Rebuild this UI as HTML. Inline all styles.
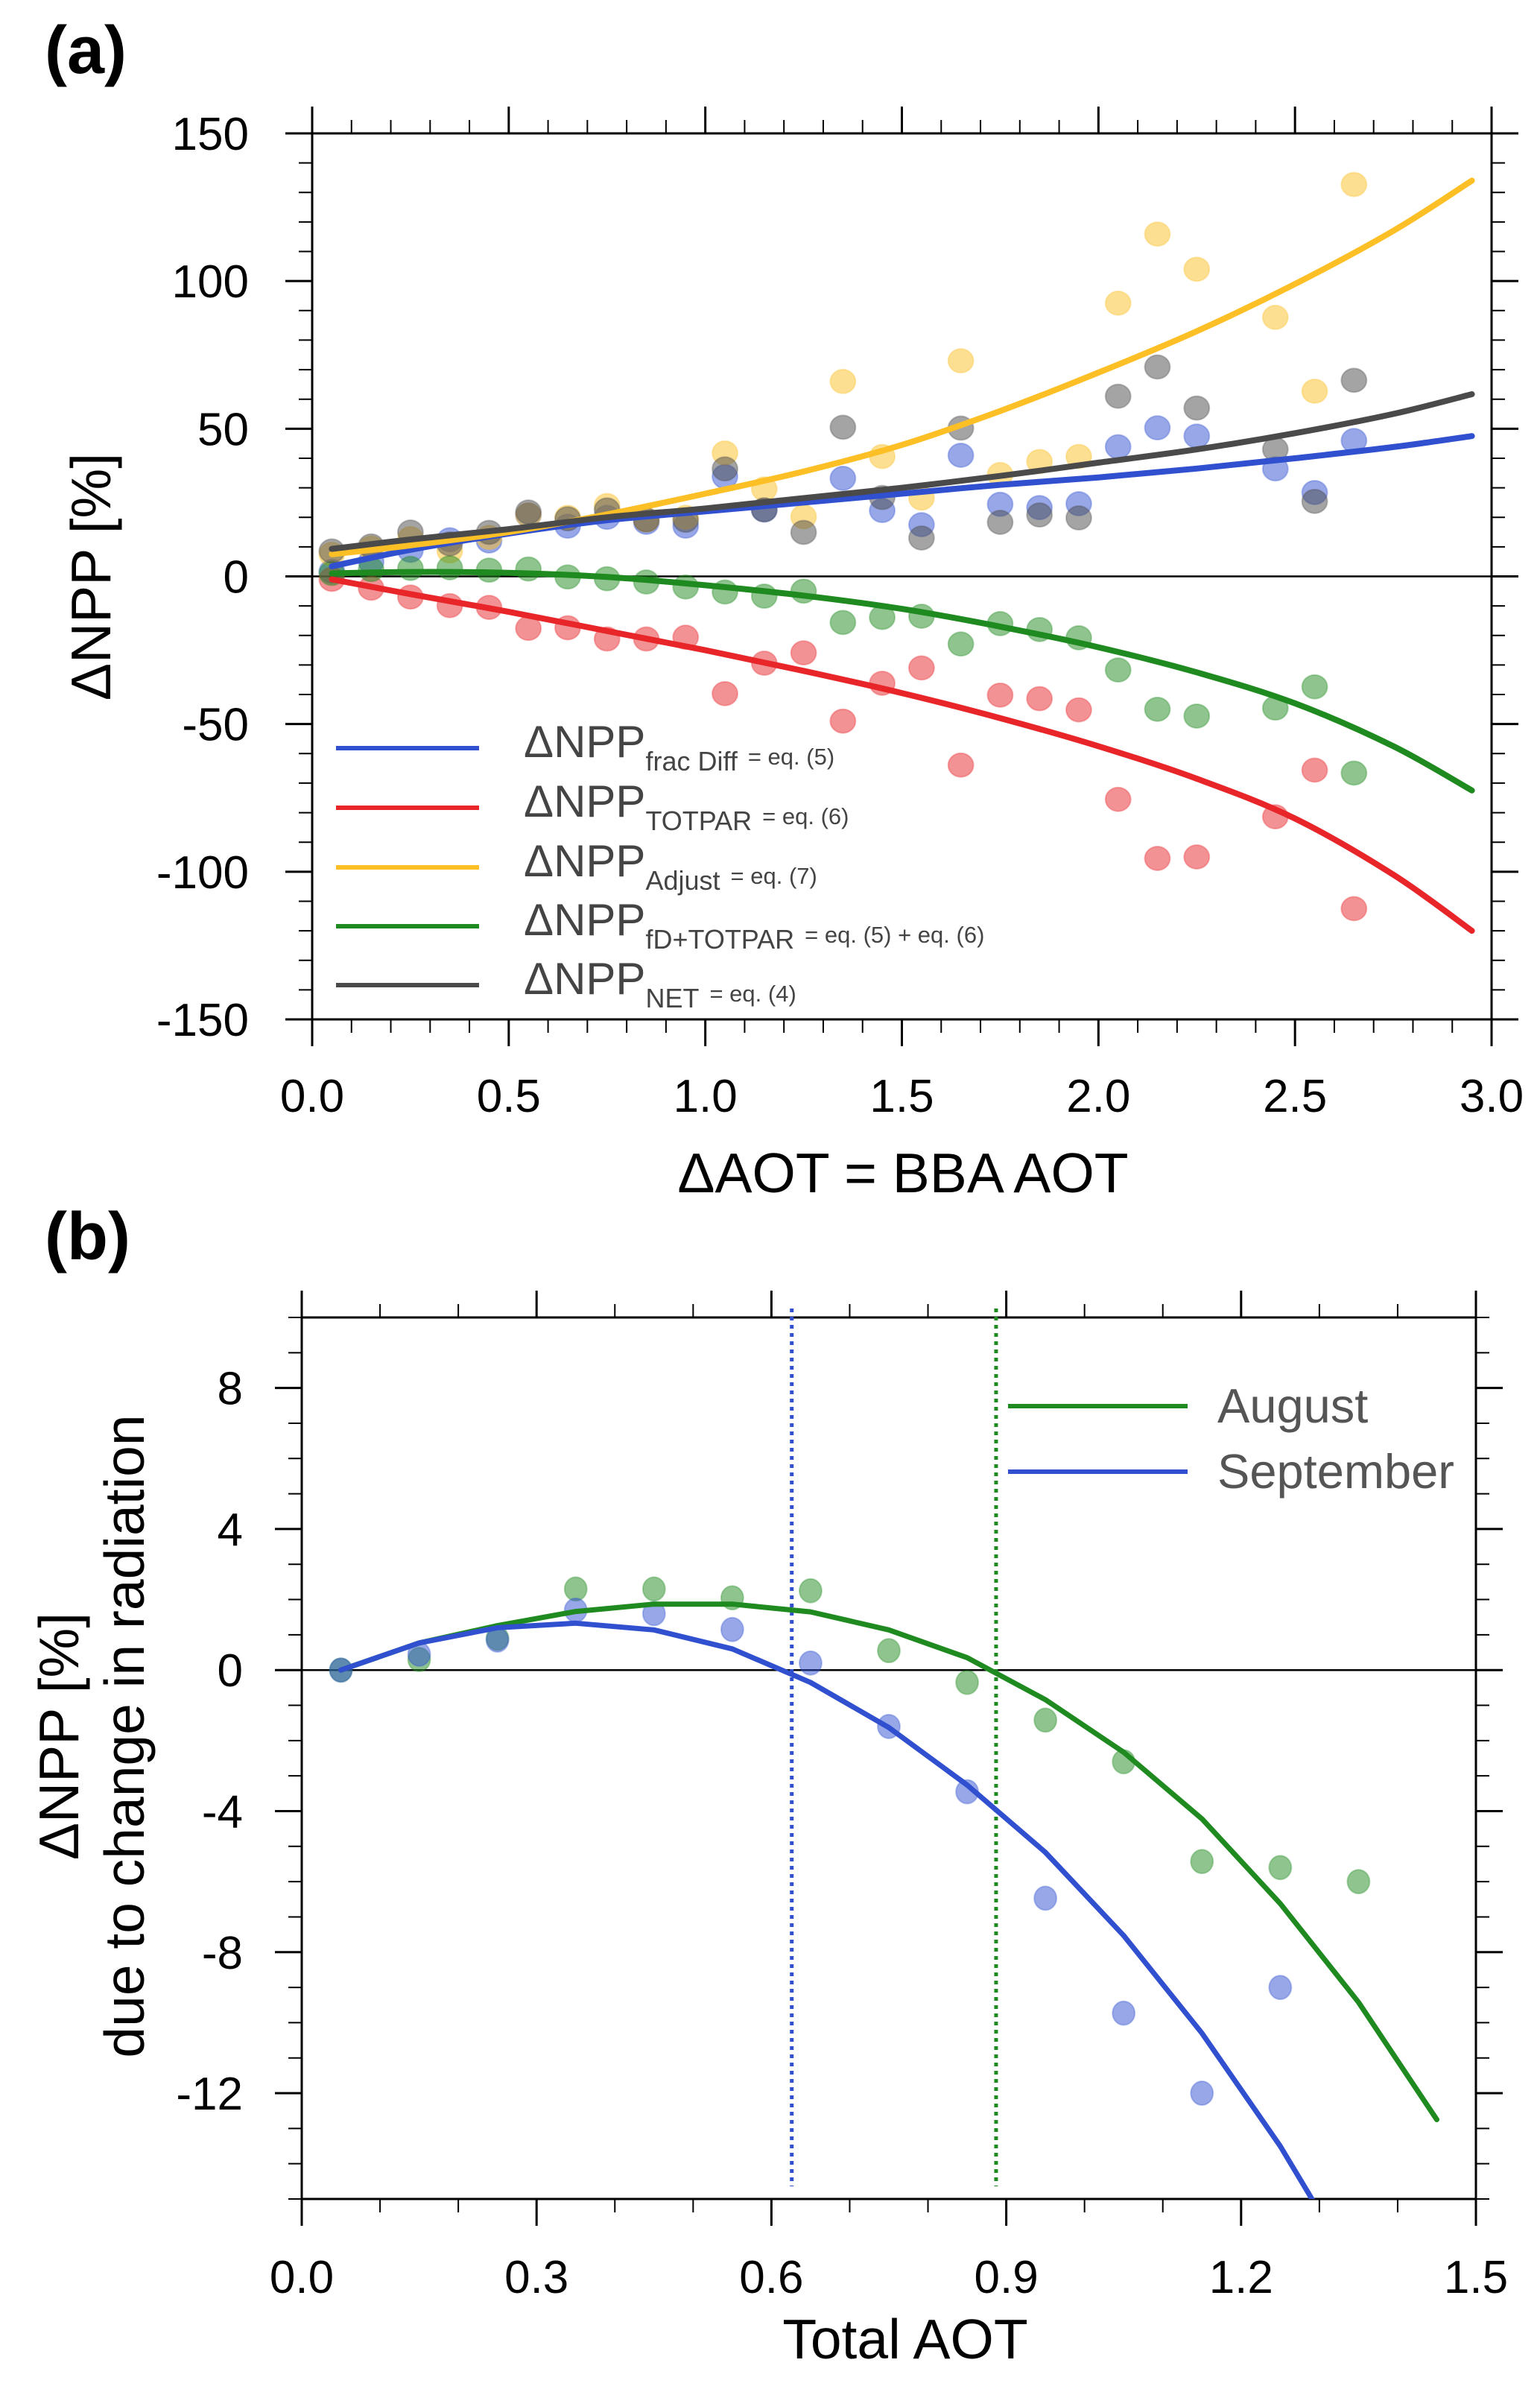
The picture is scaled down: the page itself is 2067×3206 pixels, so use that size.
<!DOCTYPE html>
<html><head><meta charset="utf-8">
<style>
html,body{margin:0;padding:0;background:#fff;}
svg{display:block;font-family:"Liberation Sans",Arial,sans-serif;}
</style></head>
<body>
<svg id="fig" width="2067" height="3206" viewBox="0 0 2067 3206" xmlns="http://www.w3.org/2000/svg">
<defs>
<clipPath id="clipB"><rect x="405" y="1768" width="1576" height="1183"/></clipPath>
</defs>
<text x="60" y="98" font-size="90" font-weight="bold">(a)</text>
<text x="60" y="1690" font-size="90" font-weight="bold">(b)</text>
<g id="pa"></g>
<g id="pb"></g>
</svg>
<script>
// ---------- Panel A data ----------
const aPointX = [0.05,0.15,0.25,0.35,0.45,0.55,0.65,0.75,0.85,0.95,1.05,1.15,1.25,1.35,1.45,1.55,1.65,1.75,1.85,1.95,2.05,2.15,2.25,2.45,2.55,2.65];
const aBluePts = [1.7,5,8.8,12.4,12,20.8,17,20,18.3,17,33.8,22.5,null,33.2,22.3,17.5,41,24.4,23.3,24.6,43.9,50.3,47.5,36.4,28.4,46];
const aRedPts = [-1,-4,-7,-9.9,-10.5,-17.6,-17.4,-21.2,-21.2,-20.6,-39.7,-29.4,-25.9,-49,-36.2,-31,-63.9,-40.2,-41.4,-45.2,-75.5,-95.5,-95,-81.4,-65.6,-112.5];
const aYellowPts = [7.5,9.6,12.8,8.6,13.2,20.8,20,24,19.1,20,41.8,29.6,20.2,66,40.6,26.5,73,34.5,38.9,40.6,92.5,115.9,104,87.7,62.7,132.7];
const aGreenPts = [1,2.3,2.7,2.9,2.1,2.5,-0.2,-0.8,-1.9,-3.6,-5.3,-6.7,-5,-15.6,-13.9,-13.5,-22.9,-16,-18,-20.8,-31.7,-45,-47.3,-44.6,-37.4,-66.6];
const aGrayPts = [8.6,10.3,15,11,14.9,21.8,19.5,22.5,19.1,19,36.4,22.5,14.9,50.5,26.7,13,50.2,18.3,20.8,19.8,61,70.9,57,43,25.4,66.4];
const aCurveX = [0.05,0.25,0.5,0.75,1.0,1.25,1.5,1.75,2.0,2.25,2.5,2.75,2.95];
const aBlueCurve = [3.4,9,14.5,19,22,25,28,31,33.5,36.5,40,43.8,47.5];
const aRedCurve = [-1,-6,-12,-18.5,-25,-32,-39.5,-48,-57.5,-68.5,-82,-101,-120];
const aYellowCurve = [7.5,10.5,15,21,28,35.5,44.5,56,69,83,99,117,134];
const aGreenCurve = [1,1.5,1.2,-0.2,-3,-6.5,-11,-17,-24,-32.5,-43,-57.5,-72.5];
const aGrayCurve = [9.3,12.5,16,20,23,26.5,30,34,38.5,43,48.5,55,61.7];
const aXTicks = [0,0.5,1.0,1.5,2.0,2.5,3.0];
const aXTickLabels = ["0.0","0.5","1.0","1.5","2.0","2.5","3.0"];
const aYTicks = [-150,-100,-50,0,50,100,150];
const aYTickLabels = ["-150","-100","-50","0","50","100","150"];

// ---------- Panel B data ----------
const bPointX = [0.05,0.15,0.25,0.35,0.45,0.55,0.65,0.75,0.85,0.95,1.05,1.15,1.25,1.35];
const bAugPts = [0,0.3,0.9,2.3,2.3,2.05,2.25,0.55,-0.35,-1.42,-2.6,-5.43,-5.6,-6.0];
const bSepPts = [0,0.45,0.85,1.7,1.6,1.15,0.2,-1.6,-3.45,-6.47,-9.73,-12.0,-9.0,null];
const bAugCurveX = [0.05,0.15,0.25,0.35,0.45,0.55,0.65,0.75,0.85,0.95,1.05,1.15,1.25,1.35,1.45];
const bAugCurve = [0,0.77,1.26,1.66,1.87,1.87,1.65,1.14,0.35,-0.84,-2.33,-4.22,-6.62,-9.42,-12.75];
const bSepCurveX = [0.05,0.15,0.25,0.35,0.45,0.55,0.65,0.75,0.85,0.95,1.05,1.15,1.25,1.35];
const bSepCurve = [0,0.77,1.2,1.33,1.14,0.6,-0.35,-1.63,-3.26,-5.17,-7.53,-10.3,-13.5,-17.2];
const bVLines = [0.626,0.887];
const bXTicks = [0,0.3,0.6,0.9,1.2,1.5];
const bXTickLabels = ["0.0","0.3","0.6","0.9","1.2","1.5"];
const bYTicks = [-12,-8,-4,0,4,8];
const bYTickLabels = ["-12","-8","-4","0","4","8"];

const NS="http://www.w3.org/2000/svg";
function mk(tag,attrs,parent){const e=document.createElementNS(NS,tag);for(const k in attrs)e.setAttribute(k,attrs[k]);parent.appendChild(e);return e;}
function smoothPath(P){
  let d='M'+P[0][0].toFixed(1)+','+P[0][1].toFixed(1);
  for(let i=0;i<P.length-1;i++){
    const p0=P[Math.max(i-1,0)],p1=P[i],p2=P[i+1],p3=P[Math.min(i+2,P.length-1)];
    const c1=[p1[0]+(p2[0]-p0[0])/6,p1[1]+(p2[1]-p0[1])/6];
    const c2=[p2[0]-(p3[0]-p1[0])/6,p2[1]-(p3[1]-p1[1])/6];
    d+=' C'+c1[0].toFixed(1)+','+c1[1].toFixed(1)+' '+c2[0].toFixed(1)+','+c2[1].toFixed(1)+' '+p2[0].toFixed(1)+','+p2[1].toFixed(1);
  }
  return d;
}

// ---------- Panel A ----------
const pa=document.getElementById('pa');
const A={l:419,r:2002,t:179,b:1368,x0:0,x1:3,y0:-150,y1:150};
const ax=v=>A.l+(v-A.x0)/(A.x1-A.x0)*(A.r-A.l);
const ay=v=>A.b-(v-A.y0)/(A.y1-A.y0)*(A.b-A.t);

function frame(P,parent,name){
  const f=mk('rect',{x:P.l,y:P.t,width:P.r-P.l,height:P.b-P.t,fill:'none',stroke:'#000','stroke-width':3},parent);
  
  
}
frame(A,pa,'panel-a-frame');
for(let i=0;i<=30;i++){const v=i*0.1;const x=ax(v);const maj=(i%5===0);const L=maj?36:18;
  const t1=mk('line',{x1:x,x2:x,y1:A.b,y2:A.b+L,stroke:'#000','stroke-width':maj?3:2},pa);
  
  
  const t2=mk('line',{x1:x,x2:x,y1:A.t,y2:A.t-L,stroke:'#000','stroke-width':maj?3:2},pa);
  
  
}
for(let i=0;i<=30;i++){const v=-150+i*10;const y=ay(v);const maj=(i%5===0);const L=maj?36:18;
  const t1=mk('line',{x1:A.l,x2:A.l-L,y1:y,y2:y,stroke:'#000','stroke-width':maj?3:2},pa);
  
  
  const t2=mk('line',{x1:A.r,x2:A.r+L,y1:y,y2:y,stroke:'#000','stroke-width':maj?3:2},pa);
  
  
}
aXTicks.forEach((v,i)=>{const t=mk('text',{x:ax(v),y:1492,'font-size':62,'text-anchor':'middle'},pa);t.textContent=aXTickLabels[i];
  
  });
aYTicks.forEach((v,i)=>{const t=mk('text',{x:334,y:ay(v)+22,'font-size':62,'text-anchor':'end'},pa);t.textContent=aYTickLabels[i];
  
  });
const zl=mk('line',{x1:A.l,x2:A.r,y1:ay(0),y2:ay(0),stroke:'#000','stroke-width':2.5},pa);



const colors={blue:'#3050d0',red:'#e8262a',yellow:'#fcbf26',green:'#1f8a1f',gray:'#4a4a4a'};
const aSeries=[['blue',aBluePts,aBlueCurve],['red',aRedPts,aRedCurve],['yellow',aYellowPts,aYellowCurve],['green',aGreenPts,aGreenCurve],['gray',aGrayPts,aGrayCurve]];
aSeries.forEach(([c,pts])=>{pts.forEach((v,i)=>{if(v===null)return;
  const d=mk('ellipse',{cx:ax(aPointX[i]),cy:ay(v),rx:17,ry:16,fill:colors[c],'fill-opacity':0.5,stroke:colors[c],'stroke-opacity':0.3,'stroke-width':2},pa);
  
  });});
aSeries.forEach(([c,pts,cur])=>{const P=cur.map((v,i)=>[ax(aCurveX[i]),ay(v)]);
  const l=mk('path',{d:smoothPath(P),fill:'none',stroke:colors[c],'stroke-width':8,'stroke-linejoin':'round','stroke-linecap':'round'},pa);
  
  });

const legA=[['blue','frac Diff','= eq. (5)',1004],['red','TOTPAR','= eq. (6)',1084],['yellow','Adjust','= eq. (7)',1164],['green','fD+TOTPAR','= eq. (5) + eq. (6)',1243],['gray','NET','= eq. (4)',1322]];
legA.forEach(([c,sub,eq,y])=>{
  const l=mk('line',{x1:451,x2:643,y1:y,y2:y,stroke:colors[c],'stroke-width':6},pa);
  
  
  const t=mk('text',{x:703,y:y+12,'font-size':60,fill:'#444'},pa);
  
  
  const t1=mk('tspan',{},t);t1.textContent='ΔNPP';
  const t2=mk('tspan',{'font-size':36,dy:18},t);t2.textContent=sub;
  const t3=mk('tspan',{'font-size':31,dy:-8,dx:14},t);t3.textContent=eq;
});
const xta=mk('text',{x:1212,y:1600,'font-size':75,'text-anchor':'middle'},pa);xta.textContent='ΔAOT = BBA AOT';


const yta=mk('text',{x:0,y:0,'font-size':75,'text-anchor':'middle',transform:'translate(148,774) rotate(-90)'},pa);yta.textContent='ΔNPP [%]';



// ---------- Panel B ----------
const pb=document.getElementById('pb');
const B={l:405,r:1981,t:1768,b:2951,x0:0,x1:1.5,y0:-15,y1:10};
const bx=v=>B.l+(v-B.x0)/(B.x1-B.x0)*(B.r-B.l);
const by=v=>B.b-(v-B.y0)/(B.y1-B.y0)*(B.b-B.t);
frame(B,pb,'panel-b-frame');
for(let i=0;i<=15;i++){const v=i*0.1;const x=bx(v);const maj=(i%3===0);const L=maj?36:18;
  const t1=mk('line',{x1:x,x2:x,y1:B.b,y2:B.b+L,stroke:'#000','stroke-width':maj?3:2},pb);
  
  
  const t2=mk('line',{x1:x,x2:x,y1:B.t,y2:B.t-L,stroke:'#000','stroke-width':maj?3:2},pb);
  
  
}
for(let i=0;i<=25;i++){const v=-15+i;const y=by(v);const maj=(v%4===0);const L=maj?36:18;
  const t1=mk('line',{x1:B.l,x2:B.l-L,y1:y,y2:y,stroke:'#000','stroke-width':maj?3:2},pb);
  
  
  const t2=mk('line',{x1:B.r,x2:B.r+L,y1:y,y2:y,stroke:'#000','stroke-width':maj?3:2},pb);
  
  
}
bXTicks.forEach((v,i)=>{const t=mk('text',{x:bx(v),y:3077,'font-size':62,'text-anchor':'middle'},pb);t.textContent=bXTickLabels[i];
  
  });
bYTicks.forEach((v,i)=>{const t=mk('text',{x:326,y:by(v)+22,'font-size':62,'text-anchor':'end'},pb);t.textContent=bYTickLabels[i];
  
  });
const zb=mk('line',{x1:B.l,x2:B.r,y1:by(0),y2:by(0),stroke:'#000','stroke-width':2.5},pb);


const vcols=[colors.blue,'#1f8a1f'];
bVLines.forEach((v,i)=>{const l=mk('line',{x1:bx(v),x2:bx(v),y1:B.t-12,y2:B.b-17,stroke:vcols[i],'stroke-width':5,'stroke-dasharray':'5 6'},pb);
  
  });
const bpG=mk('g',{'clip-path':'url(#clipB)'},pb);
[['green',bAugPts],['blue',bSepPts]].forEach(([c,pts])=>{pts.forEach((v,i)=>{if(v===null)return;
  const d=mk('ellipse',{cx:bx(bPointX[i]),cy:by(v),rx:15,ry:16,fill:colors[c],'fill-opacity':0.5,stroke:colors[c],'stroke-opacity':0.3,'stroke-width':2},bpG);
  
  });});
[['green',bAugCurveX,bAugCurve,'august'],['blue',bSepCurveX,bSepCurve,'september']].forEach(([c,xs,ys,n])=>{
  const p=ys.map((v,i)=>bx(xs[i]).toFixed(1)+','+by(v).toFixed(1)).join(' ');
  const l=mk('polyline',{points:p,fill:'none',stroke:colors[c],'stroke-width':7,'stroke-linejoin':'round','stroke-linecap':'round'},bpG);
  
  });
[['green','August',1887],['blue','September',1975]].forEach(([c,lab,y])=>{
  const l=mk('line',{x1:1353,x2:1594,y1:y,y2:y,stroke:colors[c],'stroke-width':6},pb);
  
  
  const t=mk('text',{x:1634,y:y+22,'font-size':65,fill:'#555'},pb);t.textContent=lab;
  
  });
const xtb=mk('text',{x:1215,y:3165,'font-size':75,'text-anchor':'middle'},pb);xtb.textContent='Total AOT';


const ytb=mk('text',{x:0,y:0,'font-size':75,'text-anchor':'middle',transform:'translate(0,2330) rotate(-90)'},pb);


const yl1=mk('tspan',{x:0,y:105},ytb);yl1.textContent='ΔNPP [%]';
const yl2=mk('tspan',{x:0,y:193},ytb);yl2.textContent='due to change in radiation';
</script>
</body></html>
